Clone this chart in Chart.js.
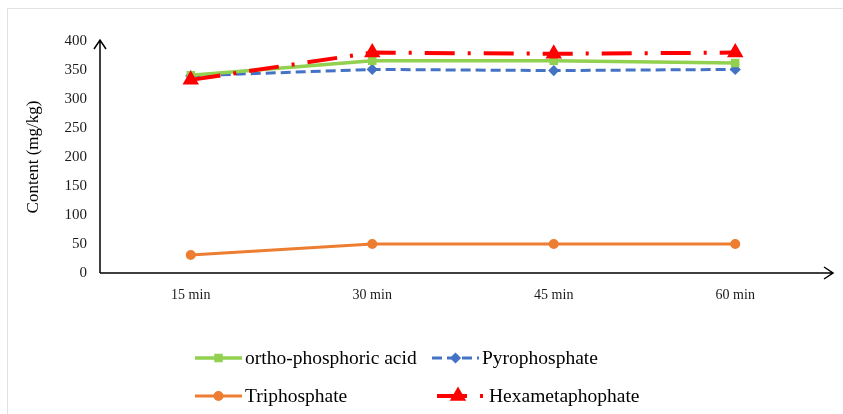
<!DOCTYPE html>
<html>
<head>
<meta charset="utf-8">
<script src="https://cdn.jsdelivr.net/npm/chart.js@4/dist/chart.umd.min.js"></script>
<style>
    html, body { margin: 0; padding: 0; background: #fff; }
    #wrap { width: 843px; height: 414px; position: relative; }
</style>
</head>
<body>
<div id="wrap"><canvas id="phosphateChart" width="843" height="414"></canvas></div>
<script>
// Sampling times and measured contents (mg/kg)
const timeLabels = ['15 min', '30 min', '45 min', '60 min'];
const orthoPhosphoric = [341, 366, 366, 362];
const pyrophosphate = [340, 351, 349, 351];
const triphosphate = [31, 50, 50, 50];
const hexametaphosphate = [333, 380, 378, 380];
const yTicks = [0, 50, 100, 150, 200, 250, 300, 350, 400];

const SERIF = '"Liberation Serif", "Times New Roman", serif';

// legend slots: [row, col]
const legendSlots = [[0, 0], [0, 1], [1, 0], [1, 1]];

/**
 * Axis lines with open arrow heads + faint frame
 */
const arrowAxes = {
    id: 'arrowAxes',
    beforeDraw(chart) {
        const ctx = chart.ctx;
        ctx.save();
        ctx.strokeStyle = '#e2e2e2';
        ctx.lineWidth = 1;
        ctx.strokeRect(7.5, 8.5, 900, 500);
        ctx.restore();
    },
    afterDatasetsDraw(chart) {
        const { ctx, chartArea } = chart;
        const x0 = chartArea.left, y0 = chartArea.bottom;
        const topY = chartArea.top - 1;
        const rightX = chartArea.right + 7;
        ctx.save();
        ctx.strokeStyle = '#000';
        ctx.lineWidth = 1.5;
        ctx.beginPath();
        ctx.moveTo(x0, y0);
        ctx.lineTo(x0, topY);
        ctx.moveTo(x0 - 6, topY + 9);
        ctx.lineTo(x0, topY);
        ctx.lineTo(x0 + 6, topY + 9);
        ctx.moveTo(x0, y0);
        ctx.lineTo(rightX, y0);
        ctx.moveTo(rightX - 9, y0 - 6);
        ctx.lineTo(rightX, y0);
        ctx.lineTo(rightX - 9, y0 + 6);
        ctx.stroke();
        ctx.restore();
    }
};

/**
 * Two-column legend under the plot, Excel style
 */
const gridLegend = {
    id: 'gridLegend',
    afterDraw(chart) {
        const ctx = chart.ctx;
        const rowY = [358, 396];
        const colX = [195, 432];
        chart.data.datasets.forEach(function(ds, i) {
            const [r, c] = legendSlots[i];
            const y = rowY[r];
            let x1 = colX[c], x2 = colX[c] + 47, textX = colX[c] + 50;
            if (ds.legendShift) {
                x1 += ds.legendShift;
                x2 += ds.legendShift + 3;
                textX += ds.legendShift + 2;
            }
            ctx.save();
            ctx.strokeStyle = ds.borderColor;
            ctx.fillStyle = ds.borderColor;
            ctx.lineWidth = ds.borderWidth;
            ctx.setLineDash(ds.borderDash || []);
            ctx.beginPath();
            ctx.moveTo(x1, y);
            ctx.lineTo(x2, y);
            ctx.stroke();
            ctx.setLineDash([]);
            const mx = ds.legendShift ? x1 + 21 : (x1 + x2) / 2;
            Chart.helpers.drawPoint(ctx, {
                pointStyle: ds.pointStyle,
                radius: ds.pointRadius,
                rotation: 0,
                borderWidth: 1
            }, mx, y);
            ctx.fillStyle = '#000';
            ctx.font = '19.5px ' + SERIF;
            ctx.textBaseline = 'middle';
            ctx.fillText(ds.label, textX, y + 1);
            ctx.restore();
        });
    }
};

const ctx = document.getElementById('phosphateChart');
new Chart(ctx, {
    type: 'line',
    data: {
        labels: timeLabels,
        datasets: [{
            label: 'ortho-phosphoric acid',
            data: orthoPhosphoric,
            borderColor: '#92D050',
            backgroundColor: '#92D050',
            borderWidth: 3.5,
            pointStyle: 'rect',
            pointRadius: 3.5,
            order: 2
        }, {
            label: 'Pyrophosphate',
            data: pyrophosphate,
            borderColor: '#4472C4',
            backgroundColor: '#4472C4',
            borderWidth: 3,
            borderDash: [10, 5],
            pointStyle: 'rectRot',
            pointRadius: 3.5,
            order: 3
        }, {
            label: 'Triphosphate',
            data: triphosphate,
            borderColor: '#ED7D31',
            backgroundColor: '#ED7D31',
            borderWidth: 3,
            pointStyle: 'circle',
            pointRadius: 3.5,
            order: 1
        }, {
            label: 'Hexametaphophate',
            data: hexametaphosphate,
            borderColor: '#FF0000',
            backgroundColor: '#FF0000',
            borderWidth: 4,
            borderDash: [30, 13, 3, 13],
            pointStyle: 'triangle',
            pointRadius: 5.5,
            legendShift: 5,
            order: 0
        }]
    },
    options: {
        responsive: false,
        animation: false,
        layout: {
            padding: { left: 19, top: 41, right: 17, bottom: 0 }
        },
        plugins: {
            legend: { display: false },
            tooltip: { enabled: false }
        },
        elements: {
            line: { tension: 0, borderCapStyle: 'butt' },
            point: { borderWidth: 1, hoverRadius: 4 }
        },
        scales: {
            x: {
                offset: true,
                grid: { display: false, drawTicks: false },
                border: { display: false },
                ticks: {
                    color: '#1a1a1a',
                    padding: 14,
                    maxRotation: 0,
                    font: { family: SERIF, size: 14 }
                },
                afterFit(scale) { scale.height = 141; }
            },
            y: {
                min: 0,
                max: 400,
                afterBuildTicks(scale) {
                    scale.ticks = yTicks.map(v => ({ value: v }));
                },
                grid: { display: false, drawTicks: false },
                border: { display: false },
                ticks: {
                    color: '#1a1a1a',
                    padding: 13,
                    font: { family: SERIF, size: 15 }
                },
                title: {
                    display: true,
                    text: 'Content (mg/kg)',
                    color: '#000',
                    font: { family: SERIF, size: 17 }
                },
                afterFit(scale) { scale.width = 81; }
            }
        }
    },
    plugins: [arrowAxes, gridLegend]
});
</script>
</body>
</html>
